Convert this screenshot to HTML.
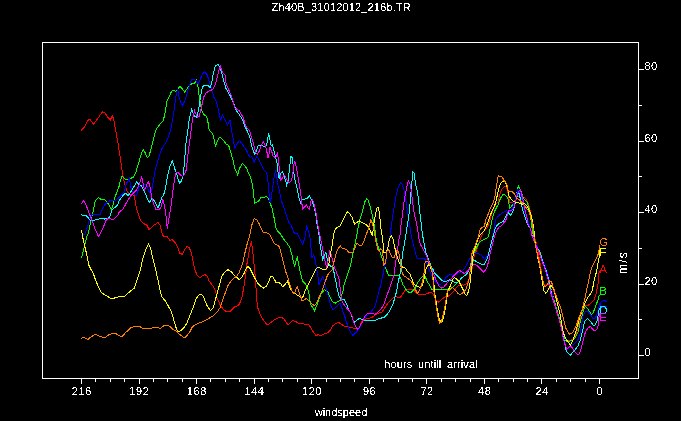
<!DOCTYPE html>
<html><head><meta charset="utf-8"><title>Zh40B_31012012_216b.TR</title>
<style>
html,body{margin:0;padding:0;background:#000;}
body{width:681px;height:421px;overflow:hidden;position:relative;}
svg{position:absolute;left:0;top:0;}
svg text{font-family:"Liberation Sans",sans-serif;font-size:11px;fill:#fff;}
</style></head>
<body>
<svg width="681" height="421" viewBox="0 0 681 421">
<g shape-rendering="crispEdges">
<rect x="42.5" y="42.5" width="596" height="336" fill="none" stroke="#fff" stroke-width="1"/>
<path d="M599.5 379V384M585.5 379V382M570.5 379V382M556.5 379V382M541.5 379V384M527.5 379V382M513.5 379V382M498.5 379V382M484.5 379V384M470.5 379V382M455.5 379V382M441.5 379V382M426.5 379V384M412.5 379V382M398.5 379V382M383.5 379V382M369.5 379V384M354.5 379V382M340.5 379V382M326.5 379V382M311.5 379V384M297.5 379V382M282.5 379V382M268.5 379V382M254.5 379V384M239.5 379V382M225.5 379V382M210.5 379V382M196.5 379V384M182.5 379V382M167.5 379V382M153.5 379V382M139.5 379V384M124.5 379V382M110.5 379V382M95.5 379V382M81.5 379V384M639 355.5H644M639 319.5H642M639 284.5H644M639 248.5H642M639 212.5H644M639 176.5H642M639 141.5H644M639 105.5H642M639 69.5H644" stroke="#fff" stroke-width="1" fill="none"/>
<polyline points="81.1,130.5 84.2,127.4 86.5,122.7 88.5,119.7 90.3,119.7 93.4,124.3 96.5,120.4 99.6,115.8 102.4,111.9 105.0,112.7 107.3,116.6 110.4,119.7 112.4,115.8 113.8,119.7 115.8,131.2 118.1,143.6 120.0,155.9 121.5,166.7 122.0,170.0 122.7,174.6 124.3,182.3 126.6,190.0 128.9,193.9 132.0,194.7 134.3,195.5 135.1,200.9 136.6,208.6 139.0,216.3 141.3,221.7 144.4,224.0 146.7,224.8 149.0,229.4 151.3,227.9 154.4,224.8 158.2,222.5 160.3,225.6 162.4,235.0 164.0,236.5 166.9,236.5 169.9,240.4 172.3,239.6 175.3,242.7 177.7,247.3 180.0,253.5 182.3,254.3 184.6,249.7 186.9,246.6 189.2,247.3 191.5,253.5 193.1,261.2 194.6,269.0 197.0,275.1 200.0,278.2 202.4,275.9 204.7,274.4 207.0,275.9 209.3,281.3 212.4,285.2 214.7,289.0 216.2,293.6 217.2,299.0 218.0,300.0 220.1,304.6 223.2,309.3 226.3,311.6 230.1,311.6 232.4,309.3 234.8,306.9 238.6,305.4 241.7,299.0 244.0,285.9 245.6,275.1 247.1,262.8 248.0,258.1 249.5,248.9 251.4,241.2 252.6,250.4 254.2,265.9 255.7,281.3 256.5,299.0 258.0,308.5 260.3,314.7 263.4,320.1 266.5,324.0 268.8,324.3 271.9,321.6 275.0,319.3 278.9,317.5 282.0,317.5 284.3,319.3 286.6,323.2 288.1,324.7 290.4,322.4 292.8,320.6 295.8,321.6 298.2,323.2 302.0,323.2 305.1,324.3 309.0,324.7 311.3,328.6 313.6,332.4 315.9,335.5 318.2,334.8 321.3,335.5 324.4,334.0 327.5,332.9 329.8,330.9 332.1,327.0 333.0,325.5 335.3,324.0 338.4,322.4 341.5,324.3 344.6,326.3 348.4,327.0 352.3,327.8 356.1,328.9 358.5,329.4 360.8,324.0 362.3,320.9 364.6,319.3 367.7,318.5 371.6,317.8 374.7,315.5 377.8,313.1 381.6,312.8 383.9,309.3 386.2,305.4 389.3,301.6 392.4,298.5 394.7,296.9 396.0,296.7 397.9,297.6 400.3,297.6 401.7,295.7 403.6,292.4 405.5,290.0 407.4,289.1 410.3,289.1 412.6,289.1 414.5,291.0 416.4,292.9 418.3,294.3 420.7,294.3 424.5,294.3 426.9,293.8 428.8,292.9 431.2,292.4 432.6,293.8 434.0,295.3 435.0,297.2 436.5,300.8 438.1,302.3 440.4,300.8 442.7,298.5 445.0,297.0 447.3,296.9 449.6,295.4 452.0,293.1 454.3,291.0 455.8,288.2 458.1,285.9 461.2,284.4 463.5,285.2 465.8,284.4 468.2,281.3 469.7,278.2 471.2,273.6 472.0,269.0 472.8,262.8 473.6,258.1 475.1,253.5 476.6,250.4 478.2,245.8 479.7,241.2 481.5,236.0 483.0,232.0 486.7,228.6 489.0,223.2 491.3,214.8 493.6,208.6 495.9,204.0 498.0,202.3 499.4,196.2 500.9,191.4 502.3,188.6 503.7,187.1 505.6,186.2 506.6,187.6 507.5,190.5 508.5,194.3 508.9,199.0 509.9,202.3 511.3,202.8 512.7,202.3 515.0,200.0 518.0,196.0 521.0,196.5 523.2,197.6 525.1,198.1 526.5,199.5 527.5,201.9 528.4,204.7 529.4,207.6 530.1,210.2 530.8,213.1 531.5,216.4 532.0,219.7 532.5,224.5 532.9,229.2 533.4,233.0 537.5,248.0 539.5,260.0 541.4,271.9 542.3,277.3 543.2,281.8 544.6,285.4 545.9,285.0 547.3,284.1 549.5,284.0 551.8,286.3 552.7,288.1 553.6,290.9 554.5,293.6 555.4,296.7 556.3,299.4 558.0,306.0 560.0,314.0 561.8,324.0 562.8,331.0 564.7,337.9 566.8,340.0 568.9,340.5 571.0,340.0 573.1,339.4 574.6,336.8 576.2,333.7 577.8,328.4 578.8,323.2 580.4,318.0 582.0,311.0 584.0,306.2 586.3,305.7 588.6,305.0 591.5,302.8 594.1,299.7 595.8,295.1 597.0,289.4 598.1,283.7 598.6,278.0 598.8,275.0 599.3,270.8" fill="none" stroke="#ff0000" stroke-width="1"/>
<polyline points="81.4,258.1 84.0,248.0 87.3,235.0 88.0,234.0 90.3,224.0 92.7,213.2 95.0,202.4 96.5,199.3 98.5,197.5 101.1,199.3 105.0,200.0 107.3,202.4 109.6,206.3 111.2,209.4 112.7,206.3 114.3,198.5 116.6,193.1 118.9,187.0 120.4,180.8 122.0,176.2 124.3,178.5 127.4,180.0 130.5,178.5 133.6,177.0 135.9,172.3 136.5,169.5 139.0,162.1 141.3,153.6 143.3,149.8 145.1,152.8 147.4,157.5 149.0,155.9 151.3,148.2 153.6,139.0 155.2,132.0 157.5,127.4 159.8,124.3 162.1,122.0 163.3,120.5 165.3,112.1 166.9,101.3 169.2,96.7 171.5,91.3 173.0,90.2 176.1,91.3 177.7,89.7 179.7,86.6 181.5,87.7 184.6,92.0 186.9,89.0 189.2,85.9 191.5,84.0 194.6,83.5 196.2,79.7 197.7,83.5 198.5,92.0 200.0,101.3 201.6,110.6 203.9,114.4 206.2,116.2 207.8,120.0 208.5,128.1 210.8,132.0 212.4,133.5 213.9,138.2 215.5,145.9 217.0,142.0 219.3,137.4 221.6,138.2 224.0,141.3 226.3,144.4 228.6,145.1 230.9,152.8 233.2,160.6 234.8,169.0 235.5,170.0 237.8,175.0 239.4,168.3 242.5,163.6 244.8,166.0 247.4,169.5 248.0,172.3 250.3,176.2 251.9,182.3 253.4,191.6 254.5,203.2 256.5,202.4 258.8,200.9 261.1,197.0 263.4,197.8 266.5,196.2 268.8,199.3 270.4,204.0 271.9,207.8 273.5,214.8 275.0,222.5 275.8,227.9 278.1,231.7 280.8,234.5 283.5,238.9 286.6,242.7 289.7,247.3 292.0,255.1 293.5,262.0 294.6,266.6 295.8,261.2 297.4,257.4 298.9,265.9 300.5,273.6 302.8,281.3 305.1,283.6 307.4,287.5 309.0,294.0 310.5,303.9 312.8,307.7 314.4,310.8 315.9,307.7 317.4,303.9 319.0,299.0 321.3,293.5 324.4,289.8 326.7,290.6 328.2,292.9 329.8,297.0 332.1,300.8 333.0,302.3 335.3,303.1 337.6,301.6 339.9,300.8 341.5,296.2 343.0,291.0 343.8,285.9 346.1,279.0 348.4,272.0 350.7,264.3 352.3,256.6 353.8,248.9 355.4,242.7 356.9,234.5 358.5,225.6 360.0,219.4 361.5,214.8 363.1,208.6 364.6,202.4 366.6,198.5 368.5,200.9 370.0,206.3 371.6,212.4 373.1,219.4 374.7,227.1 375.4,234.5 377.0,242.7 379.3,250.4 381.6,256.6 383.2,262.0 384.7,265.9 386.2,269.7 388.6,275.1 391.6,275.9 394.0,275.1 396.0,275.3 398.9,275.3 400.3,277.7 401.7,281.0 402.7,284.3 404.6,287.2 406.0,289.6 407.4,291.5 409.3,292.4 411.2,292.4 413.1,290.5 415.0,288.6 416.4,285.8 417.9,282.4 419.8,279.6 421.7,277.2 423.6,275.3 424.5,275.3 425.5,277.2 426.4,279.6 427.8,282.4 429.3,284.8 430.7,287.7 432.1,289.6 434.0,289.6 435.9,289.6 438.8,289.8 441.9,289.0 445.8,289.3 448.9,289.8 451.2,288.2 454.3,285.9 457.4,282.8 460.4,279.8 463.5,276.7 466.6,273.6 468.9,269.7 471.2,263.5 472.8,256.6 474.3,252.0 476.6,247.3 479.0,242.7 482.0,240.4 484.4,239.6 486.7,238.1 488.2,236.5 489.0,234.5 490.5,227.1 492.1,219.4 494.4,211.7 496.7,207.0 498.0,205.2 499.4,200.9 500.9,197.6 502.3,195.2 503.7,194.3 505.1,195.2 506.6,196.6 508.0,199.0 508.9,202.8 509.4,206.6 509.9,208.5 510.8,207.1 512.3,205.2 513.7,203.8 515.1,201.9 516.1,198.1 517.0,192.4 518.0,187.6 518.4,186.2 519.4,187.6 520.3,189.5 521.3,191.4 522.2,194.3 523.2,197.1 524.1,199.0 525.6,200.4 527.0,202.3 527.9,204.7 528.9,208.0 529.8,211.4 530.3,214.2 530.8,218.0 531.5,224.5 532.0,228.3 532.7,235.0 536.0,244.0 540.0,252.0 543.0,262.0 546.0,271.0 548.5,280.0 550.0,286.0 551.8,292.0 553.5,298.0 555.5,305.0 557.5,312.0 559.5,319.0 561.5,326.0 563.2,333.0 564.7,340.0 566.8,341.5 568.9,341.5 571.0,340.5 573.6,339.9 575.7,336.8 577.8,332.6 579.3,326.4 580.4,321.1 581.4,318.0 583.5,310.0 585.5,306.5 587.9,308.5 589.6,312.0 591.3,314.5 593.0,312.8 594.7,308.8 596.4,304.2 598.1,299.7 599.3,294.5" fill="none" stroke="#00ff00" stroke-width="1"/>
<polyline points="82.0,236.0 85.0,234.0 87.3,227.0 89.6,219.4 91.9,214.8 95.0,214.0 100.4,214.0 101.9,210.1 104.2,205.5 107.3,202.4 109.6,200.9 112.7,200.9 115.8,200.1 118.9,197.8 122.0,194.7 124.3,191.6 125.8,185.4 127.4,181.6 129.4,178.5 130.5,185.4 132.0,191.6 134.3,194.7 136.6,195.5 139.0,187.0 141.3,185.4 144.4,184.7 146.7,184.7 149.0,191.6 150.5,193.9 152.1,188.5 153.6,179.3 155.2,169.5 157.5,162.1 159.8,154.4 162.1,148.2 163.4,146.0 165.3,143.6 168.4,137.4 170.7,129.7 172.3,122.0 173.8,112.5 175.3,101.3 176.6,92.0 177.7,89.7 179.2,98.2 182.3,105.9 184.6,101.3 186.9,94.4 189.2,85.9 191.5,79.7 193.9,79.4 196.2,80.5 198.2,84.3 200.0,79.7 202.4,74.3 204.4,72.0 207.0,74.3 208.5,78.9 210.1,84.3 212.4,92.0 213.9,97.4 216.2,101.3 217.8,107.0 219.3,114.4 220.4,120.0 222.4,115.0 224.7,119.7 227.5,125.0 230.1,120.4 231.7,131.2 233.2,139.0 234.8,147.9 237.1,143.6 239.4,140.5 241.7,143.6 244.0,146.7 246.3,149.8 248.0,154.0 250.3,157.5 251.9,156.7 254.2,162.1 256.5,156.7 258.0,158.2 260.3,162.9 262.7,167.5 263.4,169.5 265.7,171.5 267.3,176.2 268.1,182.3 268.8,190.0 269.6,200.9 270.4,203.2 271.1,197.8 272.7,187.0 274.2,176.2 275.5,171.5 276.5,174.6 277.3,181.6 278.9,188.5 280.4,196.2 282.0,202.4 284.3,208.6 286.6,216.3 288.9,222.5 291.2,225.6 292.8,229.4 294.3,233.3 295.8,233.6 297.4,233.8 298.9,236.5 301.2,241.2 302.8,244.3 304.3,239.6 305.5,234.5 306.6,226.3 308.2,230.2 309.7,235.0 310.5,242.7 311.3,250.4 312.0,258.1 313.6,255.1 315.1,259.7 316.7,269.0 318.2,278.2 319.0,285.2 320.5,280.5 322.8,276.7 324.4,281.3 325.9,287.5 327.5,293.6 329.3,300.0 330.5,305.0 332.1,308.5 333.0,310.1 335.3,307.7 337.6,305.4 339.9,303.1 341.5,307.0 343.0,311.6 344.6,316.2 346.1,320.9 347.7,325.5 349.2,329.4 350.7,332.4 352.8,335.5 354.6,334.0 356.9,331.7 359.2,328.6 361.5,324.0 363.9,319.3 366.2,316.2 369.3,313.9 372.4,310.1 374.7,307.0 376.2,302.3 377.8,296.2 379.3,290.3 381.6,281.3 383.2,273.6 384.7,265.9 386.2,259.7 387.0,252.0 387.8,245.8 388.9,240.4 390.1,235.5 391.6,224.0 393.2,213.2 394.7,204.0 396.3,194.7 397.8,188.5 399.4,185.4 400.9,182.7 402.4,184.7 404.0,190.0 405.5,197.8 407.1,208.6 408.6,219.4 410.2,228.6 411.2,235.0 412.5,241.2 414.0,247.3 415.6,253.5 417.1,258.1 418.0,258.9 421.1,258.5 424.2,258.1 426.5,262.0 428.8,269.0 431.1,274.4 433.4,278.2 435.7,281.3 438.1,283.6 440.4,284.4 443.5,281.3 446.5,276.7 449.6,274.4 452.7,275.1 455.8,274.4 458.1,272.8 461.2,272.0 464.3,269.0 466.6,265.1 468.9,260.5 471.2,256.6 474.3,253.5 477.4,253.5 479.7,254.3 482.0,255.8 484.4,259.7 486.7,256.6 489.0,252.0 491.3,244.3 492.8,238.1 493.6,234.5 494.4,225.6 495.9,219.4 498.0,216.6 499.9,214.7 501.8,213.3 503.7,212.3 505.1,211.4 506.6,210.4 507.5,211.4 509.0,212.0 511.0,211.0 513.0,206.0 515.1,200.9 516.5,195.2 517.5,190.5 518.0,189.0 518.9,189.5 519.9,192.4 520.8,196.2 521.8,199.0 522.7,202.8 523.7,206.6 524.6,210.4 525.6,214.2 526.5,218.0 527.7,219.7 528.7,223.5 529.6,226.4 530.6,228.3 531.3,231.1 532.0,234.4 536.0,244.0 540.0,253.0 543.5,262.0 547.0,272.0 549.0,279.0 550.8,289.0 552.5,295.0 554.1,302.8 555.9,308.2 557.3,313.6 559.1,319.0 560.4,324.5 561.8,329.9 563.5,337.0 565.8,346.2 566.8,348.3 568.4,348.8 569.9,347.3 572.0,345.2 574.6,343.6 576.7,341.5 578.3,338.9 579.9,334.7 580.9,328.4 582.0,322.0 583.2,315.0 585.6,311.3 587.9,311.0 590.2,314.0 593.0,319.0 595.3,318.0 597.1,314.0 598.7,308.8 599.6,303.0" fill="none" stroke="#0000ff" stroke-width="1"/>
<polyline points="81.0,214.3 83.3,215.5 86.3,215.5 88.7,218.5 90.5,220.3 92.8,220.9 95.8,219.7 98.8,219.1 102.3,218.2 104.7,219.1 106.5,218.5 108.9,217.9 110.6,214.9 111.8,210.2 113.6,208.4 116.0,206.6 118.0,204.2 118.9,200.9 121.2,197.8 123.5,194.7 125.8,193.1 128.2,195.5 130.5,192.4 132.8,188.5 135.1,184.7 136.6,181.6 139.0,184.7 141.3,185.4 143.6,190.0 145.6,193.9 148.2,200.9 149.8,202.4 151.8,197.8 154.4,200.9 156.7,205.5 158.2,207.8 159.8,203.2 162.1,197.0 163.4,195.5 165.3,189.3 166.9,179.3 168.4,172.3 170.0,166.0 172.3,160.6 174.3,167.0 175.3,170.5 176.9,174.6 178.4,180.0 179.7,183.1 181.5,180.8 183.0,176.2 183.8,169.5 184.6,159.0 185.4,151.3 186.1,142.0 187.7,131.2 189.2,119.0 190.8,113.0 191.5,109.3 193.1,113.0 194.6,116.5 196.2,117.0 197.7,114.0 199.3,105.0 200.8,95.1 202.4,87.4 203.9,85.4 207.8,85.4 210.1,87.4 211.6,83.5 213.2,73.5 215.5,65.8 217.8,64.3 219.3,66.6 220.9,70.4 222.4,75.1 223.3,79.6 226.0,88.4 229.6,94.7 233.1,101.8 235.8,109.8 238.4,113.3 242.0,118.7 244.7,125.8 247.3,131.1 249.5,135.9 251.1,143.6 253.4,151.3 254.9,154.4 256.5,151.3 258.0,145.9 260.3,145.4 262.7,145.9 265.7,147.4 267.3,142.0 268.5,133.5 269.6,137.4 271.1,145.1 272.5,145.0 274.2,151.6 275.8,158.3 276.6,160.0 277.5,166.6 278.3,174.9 279.1,178.2 280.8,173.2 282.5,171.6 284.1,176.6 285.8,181.5 286.6,184.9 288.3,179.9 289.9,164.9 290.8,156.6 292.4,157.5 293.3,166.6 294.1,174.9 295.7,183.2 297.4,189.9 299.1,198.2 300.7,203.1 301.6,199.0 304.9,199.0 307.4,198.2 309.5,195.7 310.7,198.2 312.4,202.3 314.0,207.3 315.7,213.1 316.7,222.5 318.2,230.2 319.0,235.0 319.8,242.7 321.3,252.0 322.8,259.7 324.4,255.1 325.9,252.0 327.0,258.1 327.9,263.5 329.8,265.1 331.3,266.6 333.0,267.0 334.5,275.1 336.1,282.8 337.6,290.6 339.0,296.0 340.7,299.0 342.3,299.3 344.6,300.0 346.1,303.1 347.7,307.0 349.2,310.1 350.7,313.1 352.3,317.8 353.8,322.4 356.1,320.9 359.2,318.5 361.5,319.3 363.9,320.1 367.0,320.4 370.8,320.1 373.9,320.6 376.2,320.1 379.3,318.2 383.9,317.8 386.2,315.5 388.6,312.4 390.9,308.5 393.2,303.9 394.7,297.7 396.3,292.5 397.8,284.4 399.4,276.7 400.9,269.0 401.7,262.0 402.4,255.1 403.7,247.3 404.8,241.2 406.0,234.0 407.5,224.0 409.4,211.7 410.9,193.1 412.0,180.8 412.8,171.9 414.0,173.1 414.8,179.3 416.3,187.0 417.6,193.1 418.6,200.0 419.5,210.1 421.1,222.5 422.4,234.0 424.2,244.3 425.7,252.0 428.0,258.1 430.3,264.3 432.7,269.0 435.0,273.6 438.1,276.7 441.1,279.8 443.5,281.3 446.5,281.3 449.6,279.8 452.0,280.5 454.3,282.1 456.6,282.8 458.9,281.3 461.2,278.2 464.3,275.9 466.6,274.4 468.9,269.7 471.2,264.3 473.6,259.7 475.9,261.2 478.2,262.8 481.3,264.3 484.4,264.3 486.7,259.7 488.2,255.1 489.8,248.9 491.3,242.7 492.8,237.3 493.6,234.5 495.2,228.6 497.5,224.8 499.8,223.2 503.0,221.6 504.2,219.4 505.6,216.6 507.5,213.7 508.9,212.8 509.9,214.7 510.8,215.2 512.3,212.8 513.2,210.4 514.2,207.1 515.1,203.8 516.1,200.0 517.0,197.1 518.0,194.3 518.4,192.4 519.4,194.3 520.3,199.0 521.3,203.8 522.2,207.6 523.2,211.4 524.1,214.2 525.1,217.1 526.0,220.0 527.2,223.5 528.2,225.4 529.6,227.3 530.6,229.2 531.0,231.1 531.5,234.0 535.5,244.0 539.5,252.0 543.0,262.0 546.5,272.0 549.0,280.0 550.8,290.0 552.3,297.4 554.1,302.8 555.9,308.2 557.3,313.6 559.1,319.0 560.4,324.5 561.8,329.9 563.5,338.0 565.0,345.0 566.3,351.4 568.4,353.5 570.5,355.1 572.6,352.5 574.6,350.4 576.7,347.8 578.3,345.2 579.9,341.0 581.4,335.8 583.0,329.5 584.0,324.3 585.1,321.1 586.7,319.0 587.7,318.5 589.3,320.1 591.4,322.7 593.5,325.3 595.0,325.3 596.6,322.0 597.6,319.0 598.3,314.5 599.3,308.2" fill="none" stroke="#00ffff" stroke-width="1"/>
<polyline points="81.4,204.0 83.4,200.6 85.7,204.0 88.0,210.0 90.3,216.3 92.7,222.5 95.0,228.6 97.3,233.3 98.0,235.5 98.8,236.3 101.1,231.5 103.5,226.8 105.3,222.0 106.5,219.7 108.9,217.9 111.2,219.1 113.6,219.1 116.0,217.3 118.0,214.9 118.9,212.4 122.7,209.4 125.0,205.5 127.4,200.9 130.5,196.2 133.6,193.1 136.6,190.0 139.0,185.4 140.5,180.8 141.6,176.5 142.8,182.3 144.4,190.0 145.9,187.0 148.2,181.6 149.8,185.4 151.3,194.7 153.6,204.0 155.9,209.4 159.0,210.0 161.3,206.3 162.8,199.5 164.5,205.5 166.1,216.3 167.3,229.4 168.4,220.9 169.9,213.2 171.5,202.4 173.0,190.0 174.6,179.3 176.1,172.3 177.7,172.3 180.0,174.6 182.3,176.2 183.8,175.4 185.4,172.3 186.5,169.0 187.7,155.9 189.2,145.1 190.8,132.8 192.3,120.4 193.4,115.0 194.6,110.8 195.9,114.0 197.5,117.0 199.3,116.5 200.8,109.8 202.4,102.8 203.9,96.7 206.2,92.8 208.5,91.3 210.8,90.5 213.2,89.0 215.5,83.5 217.8,75.1 219.3,68.9 220.4,66.6 221.6,70.4 223.2,73.5 225.1,75.1 226.0,83.1 229.6,92.0 232.2,98.2 234.9,108.0 239.3,110.7 242.9,116.9 245.6,125.8 248.2,129.3 249.5,130.5 251.1,135.9 253.4,143.6 255.7,152.8 257.3,154.4 258.8,152.1 261.1,145.9 263.4,141.7 265.0,145.1 266.5,149.8 268.1,158.2 269.6,151.3 270.0,146.7 271.7,151.6 273.3,156.6 275.8,157.5 277.5,153.3 278.3,158.3 279.1,166.6 280.0,174.9 280.8,179.9 282.5,178.2 284.1,174.9 285.8,177.4 287.4,180.7 289.1,183.2 290.8,181.5 292.4,176.6 294.1,163.3 294.9,161.6 296.6,168.3 298.2,178.2 299.9,188.2 301.6,199.8 302.4,209.0 304.1,207.3 306.5,204.8 308.2,208.1 309.5,209.0 310.7,201.5 312.4,199.8 314.0,204.0 315.7,211.4 317.4,222.5 319.0,231.7 319.8,235.0 321.3,242.7 322.8,250.4 324.4,258.1 325.9,264.3 326.7,269.7 328.2,259.7 329.8,250.4 331.3,255.1 333.0,262.0 334.5,267.4 336.1,271.3 337.6,275.1 339.2,279.8 339.9,285.9 340.7,294.0 342.3,302.3 344.6,305.4 346.9,308.5 349.2,310.8 350.7,313.1 352.3,317.0 353.8,322.4 355.4,326.3 357.7,329.4 359.2,327.8 360.8,324.7 363.1,320.9 364.6,316.2 367.0,313.9 370.0,313.1 372.4,313.1 374.7,314.7 377.8,312.4 380.1,310.1 382.4,307.0 384.7,302.3 386.2,297.7 387.8,293.1 389.0,290.3 390.9,284.4 392.4,279.8 394.0,275.1 394.7,270.5 395.5,262.8 397.0,253.5 397.8,247.3 398.6,241.2 399.4,236.5 400.1,234.5 400.9,225.6 402.4,214.8 404.0,202.4 405.5,193.1 407.1,185.4 408.3,180.8 409.9,183.1 410.9,188.5 412.5,200.9 414.0,211.7 415.6,219.4 417.1,226.3 418.0,232.0 419.5,241.9 421.1,245.8 423.4,249.7 425.7,254.3 428.0,259.7 430.3,265.9 432.7,272.0 435.0,277.4 437.3,282.8 439.6,286.7 441.9,288.2 444.2,286.7 447.3,282.8 450.4,279.8 453.5,275.9 456.6,272.8 459.7,270.5 462.0,272.0 464.3,273.6 467.4,271.3 470.5,268.2 472.8,264.3 475.1,264.3 478.2,266.6 481.3,269.7 483.6,272.0 485.9,269.7 487.4,265.9 489.0,259.7 490.5,252.0 492.1,245.8 493.6,239.6 495.2,234.5 496.7,230.2 499.0,227.1 501.3,225.6 503.0,223.8 504.9,221.6 506.1,219.4 507.0,216.1 508.0,212.3 508.5,210.9 509.9,210.4 511.3,210.4 512.7,209.5 513.7,207.6 514.6,204.7 515.6,201.4 516.5,198.1 517.5,194.7 518.4,191.9 519.4,190.5 520.3,190.0 521.3,192.4 522.2,196.2 523.2,200.9 524.1,205.7 525.1,210.4 526.0,214.2 527.0,218.0 527.7,223.5 528.7,225.4 529.6,227.3 530.6,229.2 531.0,231.1 531.5,234.4 535.5,244.0 539.0,252.0 542.5,262.0 546.0,272.0 548.5,281.0 550.5,292.0 552.3,297.4 554.1,302.8 555.9,308.2 557.3,313.6 559.1,319.0 560.4,324.5 561.8,329.9 562.6,334.7 563.7,340.0 565.2,345.2 566.8,349.3 568.4,347.8 569.9,346.2 571.5,346.7 573.1,349.3 575.2,352.5 577.3,354.1 578.8,354.6 580.4,351.4 581.4,347.3 583.0,341.0 584.6,334.7 586.1,330.5 588.2,327.9 590.3,326.4 591.9,328.4 594.0,330.5 596.1,330.0 597.6,327.9 598.3,324.0 598.8,319.0 599.3,313.3" fill="none" stroke="#ff00ff" stroke-width="1"/>
<polyline points="81.4,230.0 82.5,236.0 84.2,244.3 86.5,253.5 88.8,265.1 91.1,269.7 93.4,273.6 95.7,280.5 98.1,285.9 101.1,292.1 104.2,294.4 108.1,296.7 112.0,299.0 115.8,297.5 119.7,296.7 124.3,296.4 127.4,293.6 131.2,290.6 134.3,288.2 136.6,281.3 139.0,274.4 140.0,271.3 142.8,258.5 145.7,250.0 148.5,244.3 150.7,248.5 152.1,255.7 154.2,264.2 156.4,272.7 158.5,282.7 160.6,292.7 162.1,297.0 163.5,299.0 165.3,301.0 168.4,306.2 171.5,312.3 173.8,320.1 176.1,327.8 177.7,331.6 180.7,330.9 183.8,327.8 186.9,323.1 190.0,315.4 193.1,307.7 195.8,299.5 198.5,295.2 200.8,294.1 203.1,296.0 204.5,299.5 207.0,305.4 210.5,310.5 213.2,307.7 215.5,299.5 217.8,290.6 220.1,282.8 221.6,276.7 224.7,272.0 227.8,269.7 230.9,271.3 234.0,275.1 237.1,277.4 239.4,279.8 241.7,277.4 244.0,273.6 246.3,268.2 248.0,266.3 250.3,269.0 252.6,273.6 254.9,278.2 257.3,282.8 260.3,285.9 263.4,288.2 266.5,285.9 268.8,281.3 270.4,276.7 272.7,276.4 274.2,279.0 275.8,282.1 278.9,282.5 281.2,284.4 282.7,286.7 285.0,284.4 287.4,281.3 288.9,284.4 290.4,289.0 292.8,292.1 295.8,293.8 298.2,295.7 300.5,297.2 302.0,297.8 303.6,295.5 305.1,290.6 307.4,285.9 309.7,281.3 312.8,275.1 315.9,269.0 318.2,267.1 320.5,268.2 322.8,269.7 325.2,269.7 327.5,267.4 329.0,262.8 330.6,253.5 332.1,245.8 333.0,239.5 333.8,234.0 335.3,229.4 337.6,227.1 339.9,226.3 342.3,221.7 345.3,215.5 347.7,211.4 350.0,214.0 352.3,217.8 354.6,224.0 356.9,222.5 359.2,220.9 361.5,222.5 363.9,223.2 366.2,224.8 368.5,227.1 370.8,232.0 372.4,236.0 373.9,224.0 375.4,214.8 377.0,207.8 378.1,207.0 379.3,211.7 380.1,219.4 380.8,227.1 382.1,236.0 382.9,242.0 383.4,247.3 383.9,252.0 386.2,252.0 387.8,248.9 388.6,242.7 390.1,237.3 391.6,235.8 393.2,239.6 394.7,247.3 396.3,253.5 397.8,258.1 399.4,262.8 400.9,265.9 403.2,267.4 405.5,268.2 407.8,272.0 410.3,274.4 411.2,277.2 412.6,281.0 414.5,284.8 416.4,285.8 418.3,286.9 420.2,287.2 421.7,286.7 422.6,284.8 423.6,281.0 424.5,276.3 425.5,271.5 426.4,267.7 427.8,265.8 429.3,263.9 431.9,272.0 433.4,278.2 434.2,287.5 435.0,295.2 435.7,299.3 437.3,310.1 438.8,317.0 440.4,321.6 441.9,322.4 443.5,317.0 445.0,310.1 446.5,301.6 447.3,294.6 448.3,290.0 449.5,287.5 450.4,285.9 452.7,279.8 454.3,277.4 456.6,279.0 458.9,281.3 461.2,285.9 463.5,290.6 465.1,294.4 466.6,295.5 468.2,292.1 469.7,285.9 470.5,278.2 471.2,272.0 472.0,265.9 472.8,258.1 473.6,252.0 475.1,247.3 476.6,242.7 478.2,238.1 479.7,235.0 481.3,234.0 483.6,231.7 485.9,227.1 488.2,221.7 490.5,214.8 492.8,209.4 495.2,204.0 496.7,197.8 498.0,192.4 499.4,186.7 500.9,182.9 502.3,181.9 503.7,181.4 504.7,181.9 506.1,183.8 507.0,186.7 508.0,190.5 508.5,194.3 509.4,196.6 510.8,198.5 512.3,200.4 514.2,201.9 516.1,202.3 518.0,202.3 519.9,203.3 521.8,204.2 523.7,203.8 525.6,204.2 527.0,206.1 528.4,208.5 529.8,211.4 530.8,214.2 531.7,218.0 532.0,218.8 532.9,223.5 533.6,228.3 534.2,233.0 534.6,237.4 535.2,244.6 536.6,250.0 537.5,255.4 538.4,260.9 539.6,264.7 540.5,271.0 541.4,276.4 542.3,281.8 543.2,287.2 544.1,290.9 545.5,293.1 546.8,292.7 548.2,290.0 549.5,287.2 550.9,285.6 552.2,286.8 553.6,288.6 554.6,292.0 555.9,297.4 557.3,302.8 558.6,308.2 560.0,313.6 560.9,319.0 561.8,324.5 562.5,329.0 563.7,333.7 565.2,337.9 567.3,341.0 569.4,343.6 570.5,345.2 572.0,342.0 573.6,338.4 575.2,333.7 576.7,328.4 578.3,323.2 579.3,318.0 580.9,314.0 583.2,307.8 585.6,301.6 587.9,297.2 589.6,295.1 591.3,292.8 592.4,289.4 593.6,283.7 594.1,280.0 595.3,276.5 596.4,271.9 597.3,267.3 598.1,262.8 598.7,259.4 599.6,254.8 599.8,248.5" fill="none" stroke="#ffff00" stroke-width="1"/>
<polyline points="81.1,338.6 83.9,337.3 85.7,338.3 88.0,339.5 91.1,336.7 95.7,334.3 99.6,336.3 102.7,337.3 105.5,337.3 108.9,334.7 113.5,333.2 115.8,333.6 118.9,335.5 122.0,336.6 125.8,332.4 131.2,327.5 134.3,326.5 139.7,326.5 142.8,328.4 151.3,328.4 153.6,327.5 158.2,327.5 160.1,328.5 163.0,326.2 166.1,325.0 169.9,326.2 173.0,329.3 176.9,331.6 180.0,334.7 183.1,337.0 185.4,337.3 187.7,334.7 190.0,331.6 192.3,327.0 195.4,324.7 199.3,322.8 203.1,321.6 206.2,320.1 210.1,317.7 213.9,315.4 217.0,312.3 220.1,307.7 221.6,303.1 222.6,300.0 225.5,292.1 227.8,285.9 230.9,281.3 234.0,278.2 237.1,275.9 239.4,272.0 241.7,265.9 243.2,261.2 244.8,253.5 246.3,247.3 247.8,241.5 249.5,236.0 251.9,224.8 254.2,218.6 256.5,219.4 258.8,223.2 261.1,227.9 263.4,232.5 265.7,232.5 268.1,233.6 269.8,234.5 271.9,238.9 274.2,243.5 277.3,245.0 279.6,247.3 281.2,253.5 282.7,259.7 284.3,265.9 285.8,272.0 288.1,278.2 289.7,284.4 291.2,289.0 292.8,292.6 294.3,293.7 295.8,289.5 297.4,287.0 298.9,291.5 300.5,296.0 302.0,300.5 304.3,300.0 305.9,298.5 308.2,300.0 310.5,302.3 312.8,304.7 314.4,305.4 315.9,303.9 318.2,299.5 320.5,294.0 322.8,289.0 323.6,285.9 325.9,279.8 327.5,275.1 329.8,272.0 332.1,269.7 333.0,265.1 334.5,259.7 336.1,253.5 338.4,248.1 340.4,246.1 342.3,248.1 344.6,248.9 346.9,249.7 348.4,252.0 350.7,252.7 353.1,252.0 355.4,246.6 356.9,243.5 358.5,244.3 360.0,246.1 362.3,245.0 363.9,241.2 365.4,236.5 366.2,234.5 367.7,231.0 369.3,226.3 370.8,220.2 372.4,223.2 373.9,229.4 374.7,234.5 376.2,242.7 377.8,249.7 379.3,251.2 380.8,248.9 382.4,250.4 383.2,258.1 383.9,265.1 385.5,262.8 387.0,251.2 388.6,249.7 390.4,253.5 392.4,257.4 394.0,258.1 395.5,253.5 397.0,249.7 398.6,252.0 400.1,259.7 400.9,265.9 402.4,273.6 404.0,275.9 406.3,277.4 408.6,279.0 410.3,280.1 411.7,282.0 413.1,284.8 414.5,287.7 416.0,290.5 417.4,293.4 418.8,291.5 420.2,288.6 421.7,284.8 423.1,279.1 423.8,274.4 424.5,269.6 424.8,264.9 425.2,261.5 426.5,261.2 428.0,262.0 429.6,264.3 431.1,267.4 432.7,275.1 433.4,285.9 434.2,293.6 435.0,297.7 436.5,308.5 438.1,317.8 439.6,323.2 441.1,322.4 442.7,317.0 444.2,310.1 445.8,301.6 446.5,296.2 447.5,290.5 449.6,290.6 451.2,287.5 453.5,288.2 455.8,290.6 458.1,293.6 460.4,294.4 462.8,292.9 465.1,290.6 466.6,287.5 468.2,282.8 469.7,275.1 470.5,267.4 471.2,261.2 472.0,253.5 473.6,248.9 475.1,245.8 476.6,241.2 478.2,237.3 479.2,233.5 479.7,230.2 482.0,227.4 484.4,226.3 485.9,219.4 488.2,214.0 490.5,207.8 492.8,203.2 494.4,199.3 495.2,195.5 495.9,190.0 496.7,185.4 497.5,180.0 498.2,175.8 500.0,176.2 501.5,176.4 502.7,177.7 503.7,180.0 505.1,181.4 506.6,183.8 507.5,187.1 508.0,190.5 508.9,191.9 510.4,191.4 511.8,191.4 513.2,192.4 514.6,194.3 515.6,196.6 517.0,198.5 518.4,199.0 519.9,200.4 521.8,202.3 523.2,204.2 524.6,205.7 526.0,207.6 527.5,209.5 528.9,211.4 529.8,214.2 530.8,217.5 531.3,220.0 532.3,222.6 532.9,227.3 533.4,232.1 534.0,237.0 535.2,244.6 536.6,250.0 537.5,255.4 538.4,259.0 539.2,262.0 540.1,267.4 541.0,271.0 541.9,275.5 542.8,280.0 544.1,285.4 545.0,286.8 545.9,285.9 547.3,284.5 548.6,281.8 549.5,280.9 550.9,281.4 552.1,283.6 552.7,286.3 554.0,289.0 554.6,292.0 556.8,297.4 558.6,302.8 560.4,307.3 561.8,311.8 563.1,317.2 564.5,322.7 565.8,328.1 567.3,330.5 569.4,334.2 571.5,333.7 573.6,331.1 575.7,326.9 577.3,322.7 578.8,318.0 580.5,313.5 582.2,310.0 583.2,304.7 584.5,299.7 585.6,296.2 586.3,291.5 587.3,287.1 588.4,282.6 589.3,278.0 589.6,275.3 590.7,270.8 592.4,266.2 594.1,262.8 595.8,259.4 597.5,256.0 598.7,252.5 599.3,248.0 599.3,245.1" fill="none" stroke="#ff8000" stroke-width="1"/>
</g>
<defs><filter id="bin" x="0" y="0" width="100%" height="100%" filterUnits="userSpaceOnUse"><feComponentTransfer><feFuncA type="discrete" tableValues="0 1"/></feComponentTransfer></filter></defs>
<g filter="url(#bin)">
<text x="271.6" y="11" style="letter-spacing:0.16px">Zh40B_31012012_216b.TR</text>
<text x="341" y="416" text-anchor="middle">windspeed</text>
<text x="384.3" y="368" style="word-spacing:2.6px;letter-spacing:0.1px">hours untill arrival</text>
<text transform="translate(627 262.5) rotate(-90)" text-anchor="middle" style="font-size:12px;letter-spacing:1.3px">m/s</text>
<text x="599.8" y="395" text-anchor="middle" style="letter-spacing:0.6px">0</text>
<text x="542.2" y="395" text-anchor="middle" style="letter-spacing:0.6px">24</text>
<text x="484.7" y="395" text-anchor="middle" style="letter-spacing:0.6px">48</text>
<text x="427.1" y="395" text-anchor="middle" style="letter-spacing:0.6px">72</text>
<text x="369.6" y="395" text-anchor="middle" style="letter-spacing:0.6px">96</text>
<text x="312.0" y="395" text-anchor="middle" style="letter-spacing:0.6px">120</text>
<text x="254.5" y="395" text-anchor="middle" style="letter-spacing:0.6px">144</text>
<text x="196.9" y="395" text-anchor="middle" style="letter-spacing:0.6px">168</text>
<text x="139.4" y="395" text-anchor="middle" style="letter-spacing:0.6px">192</text>
<text x="81.8" y="395" text-anchor="middle" style="letter-spacing:0.6px">216</text>
<text x="644.5" y="356" style="letter-spacing:0.5px">0</text>
<text x="644.5" y="285" style="letter-spacing:0.5px">20</text>
<text x="644.5" y="213" style="letter-spacing:0.5px">40</text>
<text x="644.5" y="142" style="letter-spacing:0.5px">60</text>
<text x="644.5" y="70" style="letter-spacing:0.5px">80</text>
<text x="599.5" y="246" style="fill:#ff8000">G</text>
<text x="599.5" y="256" style="fill:#ffff00">F</text>
<text x="599.5" y="273" style="fill:#ff0000">A</text>
<text x="599.5" y="295" style="fill:#00ff00">B</text>
<text x="599.5" y="308" style="fill:#0000ff">C</text>
<text x="599.5" y="314" style="fill:#00ffff">D</text>
<text x="599.5" y="321" style="fill:#ff00ff">E</text>
</g>
</svg>
</body></html>
